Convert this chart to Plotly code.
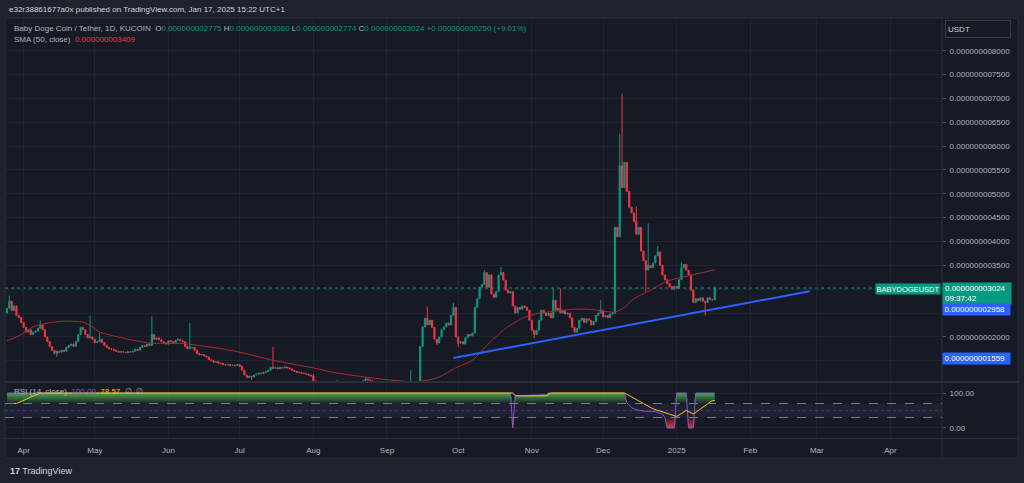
import pandas as pd
import plotly.graph_objects as go

# ---------------- data (prices in units of 1e-9 USDT) ----------------
START = "2024-03-25"
NANO = 1e-9

CLOSE = [
    2.60, 2.75, 2.55, 2.65, 2.45, 2.40, 2.30, 2.20, 2.10, 2.15,
    2.05, 2.10, 2.12, 2.18, 2.25, 2.15, 2.00, 1.90, 1.80, 1.72,
    1.65, 1.70, 1.68, 1.72, 1.70, 1.78, 1.82, 1.85, 1.80, 1.90,
    2.05, 2.20, 2.15, 2.05, 1.98, 2.00, 1.95, 1.88, 1.90, 1.95,
    1.88, 1.82, 1.78, 1.75, 1.74, 1.72, 1.70, 1.68, 1.69, 1.68,
    1.67, 1.69, 1.68, 1.70, 1.74, 1.72, 1.78, 1.82, 1.80, 1.85,
    1.82, 2.05, 1.95, 1.98, 1.94, 1.90, 1.88, 1.85, 1.92, 1.90,
    1.88, 1.93, 1.95, 1.92, 1.90, 1.80, 1.75, 1.77, 1.78, 1.72,
    1.65, 1.62, 1.63, 1.60, 1.58, 1.52, 1.50, 1.47, 1.48, 1.45,
    1.44, 1.42, 1.41, 1.42, 1.40, 1.41, 1.40, 1.42, 1.38, 1.30,
    1.20, 1.15, 1.18, 1.16, 1.20, 1.22, 1.24, 1.23, 1.26, 1.27,
    1.30, 1.36, 1.34, 1.36, 1.33, 1.36, 1.35, 1.37, 1.35, 1.33,
    1.30, 1.28, 1.25, 1.26, 1.24, 1.23, 1.22, 1.20, 1.18, 1.08,
    1.00, 1.02, 0.98, 0.97, 1.00, 1.01, 0.99, 1.02, 1.03, 1.05,
    1.02, 1.00, 0.98, 0.97, 0.96, 0.98, 1.00, 1.03, 1.04, 1.06,
    1.08, 1.12, 1.10, 1.08, 1.04, 1.00, 0.98, 0.96, 0.95, 0.96,
    0.94, 0.93, 0.95, 0.94, 0.92, 0.93, 0.95, 0.94, 0.96, 0.98,
    1.02, 1.00, 1.02, 1.05, 1.80, 2.21, 2.39, 2.25, 2.35, 2.20,
    1.95, 1.87, 2.00, 2.15, 2.21, 2.29, 2.25, 2.45, 2.62, 2.00,
    1.87, 1.90, 1.85, 1.98, 2.05, 2.02, 2.08, 2.62, 2.80, 3.04,
    3.10, 3.35, 3.04, 3.30, 2.90, 2.83, 2.95, 3.30, 3.35, 3.19,
    2.98, 2.92, 2.95, 2.65, 2.50, 2.62, 2.58, 2.65, 2.62, 2.56,
    2.35, 2.14, 2.05, 2.14, 2.35, 2.56, 2.50, 2.45, 2.50, 2.40,
    2.77, 2.56, 2.60, 2.50, 2.55, 2.48, 2.50, 2.40, 2.20, 2.10,
    2.18, 2.35, 2.39, 2.30, 2.38, 2.35, 2.25, 2.32, 2.45, 2.50,
    2.55, 2.42, 2.45, 2.40, 2.48, 2.50, 4.30, 4.10, 5.59, 5.13,
    5.66, 5.05, 4.72, 4.60, 4.42, 4.15, 4.30, 3.80, 3.60, 3.40,
    3.50, 3.45, 3.55, 3.70, 3.78, 3.50, 3.30, 3.20, 3.12, 3.05,
    3.00, 3.06, 3.02, 3.20, 3.45, 3.52, 3.40, 3.30, 2.98, 2.72,
    2.80, 2.76, 2.82, 2.75, 2.72, 2.82, 2.78, 2.775, 3.024,
]
FIRST_OPEN = 2.50

# notable wicks: day index -> price
HIGH_WICKS = {1: 2.87, 14: 2.35, 35: 2.45, 39: 2.08, 61: 2.43, 77: 2.29,
              112: 1.79, 129: 1.22, 139: 1.10, 151: 1.15, 170: 1.30,
              177: 2.64, 188: 2.71, 201: 3.40, 208: 3.46, 230: 3.04,
              233: 3.02, 250: 2.77, 258: 6.26, 259: 7.10, 265: 4.74,
              270: 4.38, 274: 3.90, 284: 3.56, 298: 3.060}
LOW_WICKS = {21: 1.58, 103: 1.10, 181: 1.83, 190: 1.79, 222: 1.97,
             269: 2.95, 294: 2.45, 298: 2.774}

# SMA(50): (day index, value)
SMA_DAYS = [0, 5, 11, 18, 25, 32, 36, 39, 45, 53, 60, 74, 88, 98, 112, 129,
            137, 152, 165, 170, 177, 182, 189, 196, 203, 210, 217, 224, 231,
            238, 245, 251, 256, 260, 264, 271, 278, 285, 292, 298]
SMA_VALUES = [1.92, 2.02, 2.21, 2.30, 2.33, 2.31, 2.21, 2.10, 2.02, 1.93, 1.87,
              1.86, 1.77, 1.68, 1.51, 1.35, 1.26, 1.15, 1.08, 1.06, 1.09, 1.16,
              1.35, 1.51, 1.87, 2.18, 2.39, 2.50, 2.54, 2.58, 2.58, 2.54, 2.52,
              2.62, 2.80, 2.98, 3.17, 3.26, 3.34, 3.409]

# RSI(14) and its MA
RSI_DAYS = [0, 212, 213, 214, 227, 228, 260, 261, 263, 265, 268, 273, 276,
            277, 278, 281, 282, 286, 287, 289, 290, 298]
RSI_VALUES = [100, 100, 0, 92, 95, 100, 100, 72, 58, 52, 48, 47, 40,
              30, 0, 0, 100, 100, 0, 0, 100, 100]
RSI_MA_DAYS = [0, 4, 14, 213, 214, 227, 229, 260, 272, 282, 286, 289, 297, 298]
RSI_MA_VALUES = [70, 70, 100, 100, 92, 92, 100, 100, 55, 33, 50, 40, 78.57, 78.57]

# blue trend line drawing (anchor dates and prices)
TREND_DATES = ["2024-09-29", "2025-02-26"]
TREND_VALUES = [1.559, 2.958]

LAST_PRICE = 3.024
MONTH_TICKS = ["2024-04-01", "2024-05-01", "2024-06-01", "2024-07-01",
               "2024-08-01", "2024-09-01", "2024-10-01", "2024-11-01",
               "2024-12-01", "2025-01-01", "2025-02-01", "2025-03-01",
               "2025-04-01"]
MONTH_LABELS = ["Apr", "May", "Jun", "Jul", "Aug", "Sep", "Oct", "Nov", "Dec",
                "2025", "Feb", "Mar", "Apr"]
# labelled price levels (the others are hidden behind the price tags)
PRICE_TICKS = [2.0, 3.5, 4.0, 4.5, 5.0, 5.5, 6.0, 6.5, 7.0, 7.5, 8.0]
HIDDEN_PRICE_TICKS = [1.5, 2.5, 3.0]

# ---------------- derived series ----------------
t0 = pd.Timestamp(START)
dates = [t0 + pd.Timedelta(days=i) for i in range(len(CLOSE))]
opens = [FIRST_OPEN] + CLOSE[:-1]
highs = [HIGH_WICKS.get(i, max(o, c)) for i, (o, c) in enumerate(zip(opens, CLOSE))]
lows = [LOW_WICKS.get(i, min(o, c)) for i, (o, c) in enumerate(zip(opens, CLOSE))]

def d2t(days):
    return [t0 + pd.Timedelta(days=d) for d in days]

# ---------------- style ----------------
W, H = 1024, 483
OUTER = "#1e222d"
INNER = "#161a25"
BORDER = "#2a2e39"
GRID = "rgba(42,46,57,0.55)"
TXT = "#b2b5be"
GREEN = "#089981"
RED = "#f23645"
PURPLE = "#7e57c2"
YELLOW = "#f5c518"
BLUE = "#2962ff"
FONT = "Liberation Sans"

def px(x):
    return x / W

def py(y):
    return 1 - y / H

fig = go.Figure()

fig.add_trace(go.Candlestick(
    x=dates, open=[v * NANO for v in opens], high=[v * NANO for v in highs],
    low=[v * NANO for v in lows], close=[v * NANO for v in CLOSE],
    increasing=dict(line=dict(color=GREEN, width=1), fillcolor=GREEN),
    decreasing=dict(line=dict(color=RED, width=1), fillcolor=RED),
    whiskerwidth=0, xaxis="x", yaxis="y", hoverinfo="skip", showlegend=False))

fig.add_trace(go.Scatter(
    x=d2t(SMA_DAYS), y=[v * NANO for v in SMA_VALUES], mode="lines",
    line=dict(color="#b22833", width=1, shape="spline", smoothing=0.6),
    xaxis="x", yaxis="y", hoverinfo="skip", showlegend=False))

fig.add_trace(go.Scatter(
    x=pd.to_datetime(TREND_DATES), y=[v * NANO for v in TREND_VALUES],
    mode="lines", line=dict(color=BLUE, width=2),
    xaxis="x", yaxis="y", hoverinfo="skip", showlegend=False))

# RSI pane
rsi_t = d2t(RSI_DAYS)
fig.add_trace(go.Scatter(x=rsi_t, y=[70] * len(RSI_DAYS), mode="lines",
                         line=dict(width=0), xaxis="x2", yaxis="y2",
                         hoverinfo="skip", showlegend=False))
fig.add_trace(go.Scatter(
    x=rsi_t, y=[max(v, 70) for v in RSI_VALUES], mode="lines",
    line=dict(width=0), fill="tonexty",
    fillgradient=dict(type="vertical", start=70, stop=100,
                      colorscale=[[0, "rgba(76,175,80,0.05)"],
                                  [1, "rgba(76,175,80,0.95)"]]),
    xaxis="x2", yaxis="y2", hoverinfo="skip", showlegend=False))
fig.add_trace(go.Scatter(x=rsi_t, y=[30] * len(RSI_DAYS), mode="lines",
                         line=dict(width=0), xaxis="x2", yaxis="y2",
                         hoverinfo="skip", showlegend=False))
fig.add_trace(go.Scatter(
    x=rsi_t, y=[min(v, 30) for v in RSI_VALUES], mode="lines",
    line=dict(width=0), fill="tonexty",
    fillgradient=dict(type="vertical", start=0, stop=30,
                      colorscale=[[0, "rgba(242,54,69,0.95)"],
                                  [1, "rgba(242,54,69,0.05)"]]),
    xaxis="x2", yaxis="y2", hoverinfo="skip", showlegend=False))
fig.add_trace(go.Scatter(x=rsi_t, y=RSI_VALUES, mode="lines",
                         line=dict(color=PURPLE, width=1),
                         xaxis="x2", yaxis="y2", hoverinfo="skip", showlegend=False))
fig.add_trace(go.Scatter(x=d2t(RSI_MA_DAYS), y=RSI_MA_VALUES, mode="lines",
                         line=dict(color=YELLOW, width=1),
                         xaxis="x2", yaxis="y2", hoverinfo="skip", showlegend=False))

xrange = [pd.Timestamp("2024-03-24 04:00"), pd.Timestamp("2025-04-22 17:00")]
xdom = [px(5), px(942)]

common_x = dict(domain=xdom, range=xrange, tickvals=pd.to_datetime(MONTH_TICKS),
                ticktext=MONTH_LABELS, showgrid=True, gridcolor=GRID, gridwidth=1,
                zeroline=False, showline=False, fixedrange=True)

fig.update_layout(
    width=W, height=H, margin=dict(l=0, r=0, t=0, b=0),
    paper_bgcolor=OUTER, plot_bgcolor=INNER,
    font=dict(family=FONT, size=8, color=TXT),
    xaxis=dict(**common_x, anchor="y", showticklabels=False,
               rangeslider=dict(visible=False)),
    yaxis=dict(domain=[py(381), py(18)], range=[1.0755 * NANO, 8.686 * NANO],
               side="right", anchor="x", tickvals=[v * NANO for v in PRICE_TICKS],
               tickformat=".12f", ticks="outside", ticklen=3, tickcolor="#50535e",
               ticklabelstandoff=2, showgrid=True, gridcolor=GRID,
               minor=dict(tickvals=[v * NANO for v in HIDDEN_PRICE_TICKS],
                          showgrid=True, gridcolor=GRID, ticks=""),
               zeroline=False, fixedrange=True,
               tickfont=dict(family=FONT, size=8, color=TXT)),
    xaxis2=dict(**common_x, anchor="y2", showticklabels=True, ticks="",
                ticklabelstandoff=6, tickfont=dict(family=FONT, size=8, color=TXT)),
    yaxis2=dict(domain=[py(438), py(383)], range=[-28.6, 128.6], side="right",
                anchor="x2", tickvals=[0, 100], tickformat=".2f", ticks="outside",
                ticklen=3, tickcolor="#50535e", ticklabelstandoff=2,
                showgrid=True, gridcolor=GRID, zeroline=False, fixedrange=True,
                tickfont=dict(family=FONT, size=8, color=TXT)),
    showlegend=False,
)

shapes = [
    # chart frame
    dict(type="rect", xref="paper", yref="paper", x0=px(5), x1=px(1018),
         y0=py(458), y1=py(18), fillcolor=INNER, line=dict(color=BORDER, width=1),
         layer="below"),
    # pane separators
    dict(type="line", xref="paper", yref="paper", x0=px(942), x1=px(942),
         y0=py(458), y1=py(18), line=dict(color=BORDER, width=1)),
    dict(type="line", xref="paper", yref="paper", x0=px(5), x1=px(1018),
         y0=py(382), y1=py(382), line=dict(color=BORDER, width=2)),
    dict(type="line", xref="paper", yref="paper", x0=px(5), x1=px(1018),
         y0=py(438.5), y1=py(438.5), line=dict(color=BORDER, width=1)),
    # last price dotted line
    dict(type="line", xref="x domain", yref="y", x0=0, x1=1,
         y0=LAST_PRICE * NANO, y1=LAST_PRICE * NANO,
         line=dict(color=GREEN, width=1, dash="dot"), layer="below"),
    # RSI band and levels
    dict(type="rect", xref="x2 domain", yref="y2", x0=0, x1=1, y0=30, y1=70,
         fillcolor="rgba(126,87,194,0.10)", line=dict(width=0), layer="below"),
    dict(type="line", xref="x2 domain", yref="y2", x0=0, x1=1, y0=70, y1=70,
         line=dict(color="#787b86", width=1, dash="dash")),
    dict(type="line", xref="x2 domain", yref="y2", x0=0, x1=1, y0=30, y1=30,
         line=dict(color="#787b86", width=1, dash="dash")),
    dict(type="line", xref="x2 domain", yref="y2", x0=0, x1=1, y0=50, y1=50,
         line=dict(color="rgba(120,123,134,0.35)", width=1, dash="dot")),
]
fig.update_layout(shapes=shapes)

def span(t, c):
    return f'<span style="color:{c}">{t}</span>'

ann = []
ann.append(dict(xref="paper", yref="paper", x=px(7), y=py(9), xanchor="left",
                yanchor="middle", showarrow=False,
                text="e32r38861677a0x published on TradingView.com, Jan 17, 2025 15:22 UTC+1",
                font=dict(family=FONT, size=8, color="#d1d4dc")))
hdr = ("Baby Doge Coin / Tether, 1D, KUCOIN  "
       + "O" + span("0.000000002775", GREEN) + " H" + span("0.000000003060", GREEN)
       + " L" + span("0.000000002774", GREEN) + " C" + span("0.000000003024", GREEN)
       + " " + span("+0.000000000250 (+9.01%)", GREEN))
ann.append(dict(xref="paper", yref="paper", x=px(12), y=py(28), xanchor="left",
                yanchor="middle", showarrow=False, text=hdr,
                font=dict(family=FONT, size=8, color=TXT)))
ann.append(dict(xref="paper", yref="paper", x=px(12), y=py(40), xanchor="left",
                yanchor="middle", showarrow=False,
                text="SMA (50, close)  " + span("0.000000003409", RED),
                font=dict(family=FONT, size=8, color=TXT)))
ann.append(dict(xref="paper", yref="paper", x=px(12), y=py(391), xanchor="left",
                yanchor="middle", showarrow=False,
                text="RSI (14, close)  " + span("100.00", PURPLE) + "  "
                     + span("78.57", YELLOW) + "  ∅  ∅",
                font=dict(family=FONT, size=8, color=TXT)))
# axis currency box
ann.append(dict(xref="paper", yref="paper", x=px(945), y=py(29.5), xanchor="left",
                yanchor="middle", showarrow=False, text="USDT", align="left",
                width=60, height=12, borderpad=2, bgcolor=INNER,
                bordercolor="#363a45", borderwidth=1,
                font=dict(family=FONT, size=8, color="#d1d4dc")))
# price labels
ann.append(dict(xref="paper", yref="y", x=px(942), y=LAST_PRICE * NANO,
                xanchor="left", yanchor="middle", yshift=-5.5, showarrow=False,
                text="0.000000003024<br>09:37:42", align="left",
                width=64, height=17, borderpad=2, bgcolor=GREEN,
                font=dict(family=FONT, size=8, color="#ffffff")))
ann.append(dict(xref="paper", yref="y", x=px(941), y=LAST_PRICE * NANO,
                xanchor="right", yanchor="middle", yshift=-1, showarrow=False,
                text="BABYDOGEUSDT", align="center", width=62, height=8,
                borderpad=1, bgcolor=GREEN,
                font=dict(family=FONT, size=7.5, color="#ffffff")))
ann.append(dict(xref="paper", yref="y", x=px(942), y=TREND_VALUES[1] * NANO,
                xanchor="left", yanchor="middle", yshift=-18.3, showarrow=False,
                text="0.000000002958", align="left", width=64, height=8,
                borderpad=1.5, bgcolor=BLUE,
                font=dict(family=FONT, size=8, color="#ffffff")))
ann.append(dict(xref="paper", yref="y", x=px(942), y=TREND_VALUES[0] * NANO,
                xanchor="left", yanchor="middle", yshift=-0.5, showarrow=False,
                text="0.000000001559", align="left", width=64, height=8,
                borderpad=1.5, bgcolor=BLUE,
                font=dict(family=FONT, size=8, color="#ffffff")))
# footer logo
ann.append(dict(xref="paper", yref="paper", x=px(8), y=py(471), xanchor="left",
                yanchor="middle", showarrow=False,
                text="<b>17</b> TradingView",
                font=dict(family=FONT, size=9, color="#d1d4dc")))
fig.update_layout(annotations=ann)

fig.write_html("out.html", config={"displayModeBar": False})
